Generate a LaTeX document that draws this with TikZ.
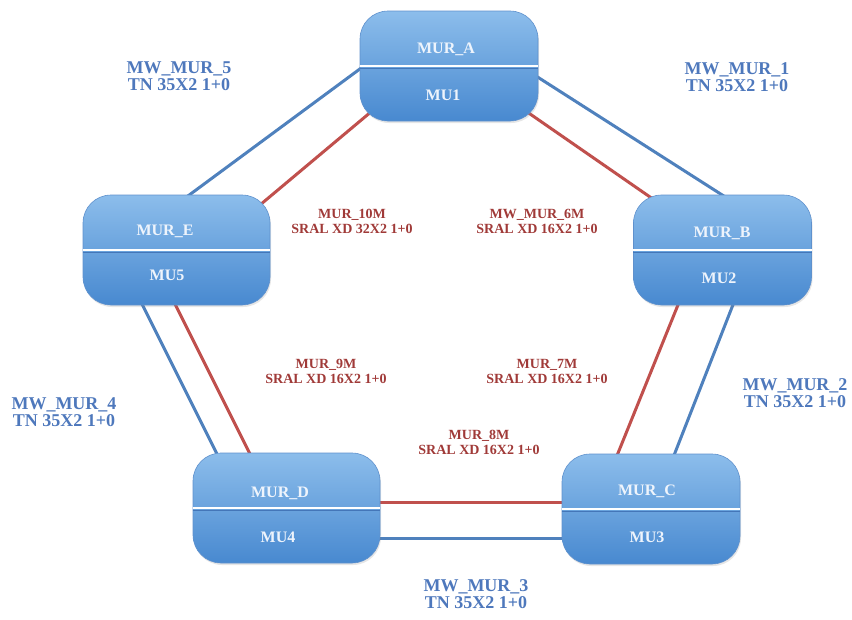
\documentclass[tikz,border=0pt]{standalone}
\usepackage{fontspec}
\setmainfont{Liberation Serif}
\usetikzlibrary{calc,shadows}
\pgfdeclarelayer{background}
\pgfsetlayers{background,main}

\definecolor{linkblue}{RGB}{79,129,189}
\definecolor{linkred}{RGB}{192,80,77}
\definecolor{lblblue}{RGB}{78,120,188}
\definecolor{lblred}{RGB}{160,58,56}
\definecolor{boxtop}{RGB}{140,189,235}
\definecolor{boxbot}{RGB}{72,137,208}
\definecolor{boxedge}{RGB}{95,145,205}
\definecolor{divshade}{RGB}{68,118,184}
\definecolor{unitwhite}{RGB}{238,244,252}

\begin{document}
\begin{tikzpicture}[x=1pt,y=-1pt,
  unit/.style={draw=boxedge, line width=0.6pt, rounded corners=28pt,
    top color=boxtop, bottom color=boxbot, minimum width=#1,
    minimum height=110pt, inner sep=0pt,
    drop shadow={opacity=0.2, shadow xshift=1pt, shadow yshift=-2pt}},
  unit/.default=178pt,
  unittext/.style={text=unitwhite, font=\fontsize{16}{20}\selectfont\bfseries,
    anchor=base, inner sep=0pt},
  bluelink/.style={draw=linkblue, line width=3pt},
  redlink/.style={draw=linkred, line width=3pt},
  bluelabel/.style={text=lblblue, font=\fontsize{18}{16.5}\selectfont\bfseries,
    align=center, inner sep=0pt},
  redlabel/.style={text=lblred, font=\fontsize{14}{15}\selectfont\bfseries,
    align=center, inner sep=0pt},
  divider/.style={draw=white, line width=2.5pt},
  dividershade/.style={draw=divshade, line width=1.5pt}
]
\useasboundingbox (0,0) rectangle (852,619);

% units
\node[unit] (A) at (449,66) {};
\node[unit] (B) at (722.5,250) {};
\node[unit] (C) at (651,509) {};
\node[unit=187pt] (D) at (286.5,508) {};
\node[unit=187pt] (E) at (176.5,250) {};

% split line in each unit
\foreach \n in {A,B,C,D,E}{
  \draw[dividershade] ([yshift=-2.5pt]\n.west) -- ([yshift=-2.5pt]\n.east);
  \draw[divider] (\n.west) -- (\n.east);
}

% unit texts
\node[unittext] (A-top) at (446,53) {MUR\_A};
\node[unittext] (A-bot) at (443,100) {MU1};
\node[unittext] (B-top) at (722,237) {MUR\_B};
\node[unittext] (B-bot) at (719,283) {MU2};
\node[unittext] (C-top) at (647,495) {MUR\_C};
\node[unittext] (C-bot) at (647,542) {MU3};
\node[unittext] (D-top) at (280,497) {MUR\_D};
\node[unittext] (D-bot) at (278,542) {MU4};
\node[unittext] (E-top) at (165,235) {MUR\_E};
\node[unittext] (E-bot) at (167,280) {MU5};

% link labels
\node[bluelabel] (L1) at (737,77) {MW\_MUR\_1\\TN 35X2 1+0};
\node[bluelabel] (L2) at (795,393) {MW\_MUR\_2\\TN 35X2 1+0};
\node[bluelabel] (L3) at (476,594) {MW\_MUR\_3\\TN 35X2 1+0};
\node[bluelabel] (L4) at (64,412) {MW\_MUR\_4\\TN 35X2 1+0};
\node[bluelabel] (L5) at (179,76) {MW\_MUR\_5\\TN 35X2 1+0};

\node[redlabel] (R10) at (352,221) {MUR\_10M\\SRAL XD 32X2 1+0};
\node[redlabel] (R6) at (537,221) {MW\_MUR\_6M\\SRAL XD 16X2 1+0};
\node[redlabel] (R9) at (326,371) {MUR\_9M\\SRAL XD 16X2 1+0};
\node[redlabel] (R7) at (547,371) {MUR\_7M\\SRAL XD 16X2 1+0};
\node[redlabel] (R8) at (479,442) {MUR\_8M\\SRAL XD 16X2 1+0};

% links, behind the units
\begin{pgfonlayer}{background}
  \draw[bluelink] ($(A)+(-77,-6)$) -- ($(E)+(-3.5,-43)$);
  \draw[redlink]  ($(A)+(-71,40)$) -- ($(E)+(77.5,-40)$);
  \draw[bluelink] ($(A)+(76,3)$)   -- ($(B)+(18.5,-43)$);
  \draw[redlink]  ($(A)+(71,41)$)  -- ($(B)+(-59.5,-44)$);
  \draw[bluelink] ($(E)+(-39,45)$) -- ($(D)+(-65,-45)$);
  \draw[redlink]  ($(E)+(-6,45)$)  -- ($(D)+(-32,-45)$);
  \draw[bluelink] ($(B)+(14.3,45)$) -- ($(C)+(20,-46)$);
  \draw[redlink]  ($(B)+(-40.5,45)$) -- ($(C)+(-37,-46)$);
  \draw[redlink]  ($(D)+(80,-6)$)  -- ($(C)+(-80,-7)$);
  \draw[bluelink] ($(D)+(80,30)$)  -- ($(C)+(-80,29)$);
\end{pgfonlayer}
\end{tikzpicture}
\end{document}
